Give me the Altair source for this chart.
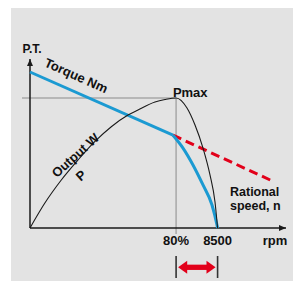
import altair as alt
import pandas as pd

# ---- data (x: rpm, y: % of Pmax) ----
rpm_power = [0, 666, 1418, 2175, 2932, 3684, 4441, 4894, 5664, 6117, 6620, 7114, 7477, 7839, 8156, 8383, 8500]
power = [0, 19.0, 36.9, 52.3, 66.4, 77.9, 86.9, 90.8, 96.9, 98.8, 100, 92.3, 79.2, 61.5, 40.8, 20.0, 0]

rpm_torque_const = [0, 6480]
torque_const = [120, 71.4]
rpm_torque_drop = [6480, 6933, 7386, 7839, 8247, 8473, 8500]
torque_drop = [71.4, 61.5, 48.5, 33.1, 17.7, 2.3, 0]

rpm_rated = [6480, 11000]
torque_rated = [71.4, 36]

pmax_rpm = 6620
pmax_value = 100
rated_rpm = 8500

X_MAX = 11600
Y_MAX = 130
W, H = 256, 169

BLUE = "#1b9ad2"
RED = "#e2001a"
INK = "#1a1a1a"
GREY = "#a8a8a8"
PANEL = "#e3e3e3"
FONT = "Liberation Sans"

xs = alt.Scale(domain=[0, X_MAX])
ys = alt.Scale(domain=[0, Y_MAX])

def X(f="x"):
    return alt.X(f + ":Q", scale=xs, axis=None)

def Y(f="y"):
    return alt.Y(f + ":Q", scale=ys, axis=None)

power_df = pd.DataFrame({"x": rpm_power, "y": power})
tconst_df = pd.DataFrame({"x": rpm_torque_const, "y": torque_const})
tdrop_df = pd.DataFrame({"x": rpm_torque_drop, "y": torque_drop})
rated_df = pd.DataFrame({"x": rpm_rated, "y": torque_rated})
pmax_df = pd.DataFrame({"x": [pmax_rpm], "x0": [0], "y": [pmax_value], "y0": [0]})
range_df = pd.DataFrame({"x": [pmax_rpm], "x2": [rated_rpm]})
ticks_df = pd.DataFrame({"x": [pmax_rpm, rated_rpm]})
axes_df = pd.DataFrame({"x": [0], "x2": [X_MAX], "y": [0], "y2": [Y_MAX]})

panel = alt.Chart(alt.Data(values=[{}])).mark_rect(color=PANEL).encode(
    x=alt.value(-19), x2=alt.value(263), y=alt.value(-51), y2=alt.value(222)
)

x_axis = alt.Chart(axes_df).mark_rule(color=INK, strokeWidth=1.5).encode(
    x=X("x"), x2="x2:Q", y=Y("y")
)
y_axis = alt.Chart(axes_df).mark_rule(color=INK, strokeWidth=1.5).encode(
    x=X("x"), y=Y("y"), y2="y2:Q"
)

href = alt.Chart(pmax_df).mark_rule(color=GREY, strokeWidth=1.5, xOffset=-8).encode(
    x=X("x0"), x2="x:Q", y=Y("y")
)
vref = alt.Chart(pmax_df).mark_rule(color=GREY, strokeWidth=1.5, y2Offset=6).encode(
    x=X("x"), y=Y("y"), y2="y0:Q"
)

rated = alt.Chart(rated_df).mark_line(color=RED, strokeWidth=3, strokeDash=[9, 5]).encode(
    x=X(), y=Y()
)
torque_const_line = alt.Chart(tconst_df).mark_line(color=BLUE, strokeWidth=3).encode(
    x=X(), y=Y()
)
torque_drop_line = alt.Chart(tdrop_df).mark_line(color=BLUE, strokeWidth=3, interpolate="monotone").encode(
    x=X(), y=Y()
)
power_line = alt.Chart(power_df).mark_line(color=INK, strokeWidth=1.1, interpolate="monotone").encode(
    x=X(), y=Y()
)

arrow_x = alt.Chart(pd.DataFrame({"x": [X_MAX], "y": [0]})).mark_point(
    shape="M1,0L-1,-0.85L-1,0.85Z", filled=True, size=49, color=INK, opacity=1, xOffset=-3.5
).encode(x=X(), y=Y())
arrow_y = alt.Chart(pd.DataFrame({"x": [0], "y": [Y_MAX]})).mark_point(
    shape="M0,-1L-0.85,1L0.85,1Z", filled=True, size=49, color=INK, opacity=1, yOffset=3.5
).encode(x=X(), y=Y())

# speed-range double arrow under the axis
ticks = alt.Chart(ticks_df).mark_rule(color="#333333", strokeWidth=1.6).encode(
    x=X(), y=alt.value(197), y2=alt.value(219)
)
body = alt.Chart(range_df).mark_rule(color=RED, strokeWidth=5.3, xOffset=10, x2Offset=-10).encode(
    x=X(), x2="x2:Q", y=alt.value(208.3)
)
head_l = alt.Chart(pd.DataFrame({"x": [pmax_rpm]})).mark_point(
    shape="M-1,0L0.4,-1L0.4,1Z", filled=True, size=169, color=RED, opacity=1, xOffset=8.5
).encode(x=X(), y=alt.value(208.3))
head_r = alt.Chart(pd.DataFrame({"x": [rated_rpm]})).mark_point(
    shape="M1,0L-0.4,-1L-0.4,1Z", filled=True, size=169, color=RED, opacity=1, xOffset=-8.5
).encode(x=X(), y=alt.value(208.3))

# text annotations
def txt(df, **kw):
    base = dict(font=FONT, fontWeight="bold", fontSize=13, color="#111111")
    base.update(kw)
    return alt.Chart(df).mark_text(**base).encode(x=X(), y=Y(), text="t:N")

t_torque = txt(pd.DataFrame({"x": [2084], "y": [116.9], "t": ["Torque Nm"]}),
               angle=24, align="center", baseline="middle")
t_output = txt(pd.DataFrame({"x": [2071, 2326], "y": [55.6, 40], "t": ["Output W", "P"]}),
               angle=318, align="center", baseline="middle")
t_pt = txt(pd.DataFrame({"x": [91], "y": [134.6], "t": ["P.T."]}),
           align="center", baseline="alphabetic", fontSize=12)
t_pmax = txt(pd.DataFrame({"x": [7260], "y": [101], "t": ["Pmax"]}),
             align="center", baseline="alphabetic")
t_rated = txt(pd.DataFrame({"x": [9062], "y": [24.8], "t": ["Rational\nspeed, n"]}),
              align="left", baseline="alphabetic", lineBreak="\n", lineHeight=14, fontSize=12.5)
t_xlab = alt.Chart(pd.DataFrame({"x": [pmax_rpm, rated_rpm], "t": ["80%", "8500"]})).mark_text(
    font=FONT, fontWeight="bold", fontSize=13, color="#111111", align="center", baseline="alphabetic"
).encode(x=X(), y=alt.value(186), text="t:N")
t_rpm = alt.Chart(pd.DataFrame({"t": ["rpm"]})).mark_text(
    font=FONT, fontWeight="bold", fontSize=13, color="#111111", align="center", baseline="alphabetic"
).encode(x=alt.value(245), y=alt.value(186), text="t:N")

chart = alt.layer(
    panel, href, vref, x_axis, y_axis, rated, torque_const_line, torque_drop_line, power_line,
    arrow_x, arrow_y, ticks, body, head_l, head_r,
    t_torque, t_output, t_pt, t_pmax, t_rated, t_xlab, t_rpm
).properties(
    width=W, height=H,
    autosize=alt.AutoSizeParams(type="none"),
    padding={"left": 22, "top": 51, "right": 7, "bottom": 53},
    background="white",
).configure_view(strokeWidth=0)

chart.save("out.html", embed_options={"renderer": "svg", "actions": False})
